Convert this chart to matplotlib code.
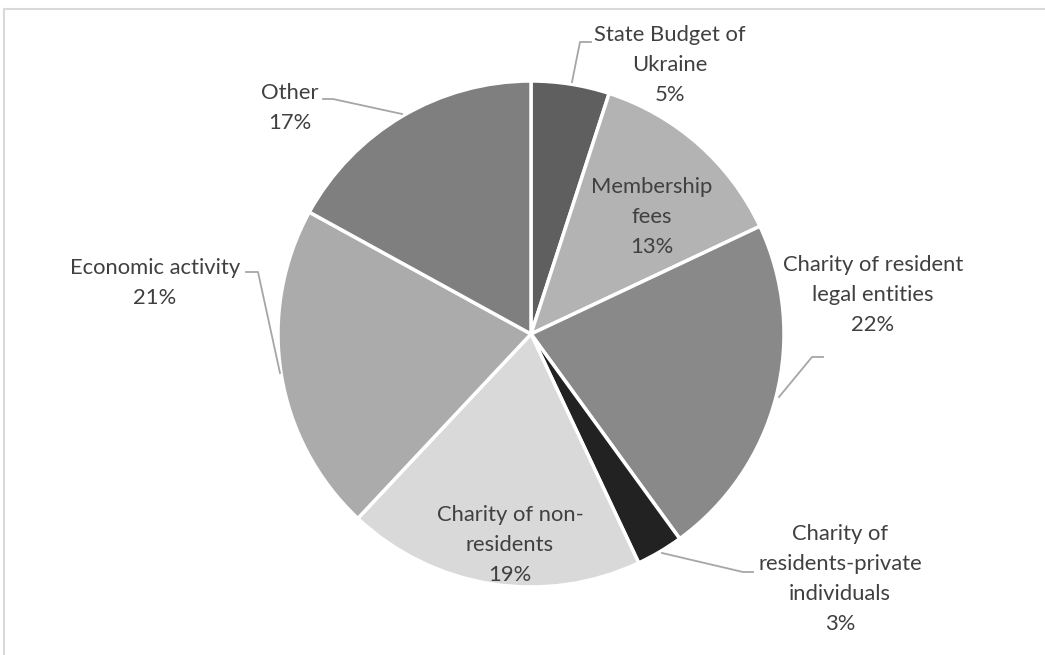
import matplotlib.pyplot as plt
from matplotlib.lines import Line2D

# funding sources, percent of total, clockwise from 12 o'clock
sources = ['State Budget of\nUkraine', 'Membership\nfees',
           'Charity of resident\nlegal entities',
           'Charity of\nresidents-private\nindividuals',
           'Charity of non-\nresidents', 'Economic activity', 'Other']
shares = [5, 13, 22, 3, 19, 21, 17]
colors = ['#5f5f5f', '#b3b3b3', '#898989', '#222222', '#d9d9d9', '#ababab', '#7f7f7f']

W, H = 1045, 655
fig = plt.figure(figsize=(W / 100, H / 100), dpi=100)
ax = fig.add_axes([0, 0, 1, 1])
ax.set_xlim(0, W)
ax.set_ylim(0, H)
ax.axis('off')

cx, cy, r = 531, H - 334, 253
ax.pie(shares, colors=colors, startangle=90, counterclock=False,
       center=(cx, cy), radius=r,
       wedgeprops=dict(edgecolor='white', linewidth=2.5))
ax.set_xlim(0, W)
ax.set_ylim(0, H)
ax.set_aspect('equal')

# label text placed in pixel coords (top-left origin)
label_xy = [(670, 65), (652, 217), (873, 295), (840, 579), (510, 545), (155, 283), (290, 108)]
txt = dict(ha='center', va='center', fontsize=15.8, color='#404040',
           family=['Lato', 'DejaVu Sans'], linespacing=1.62)
for name, v, (x, y) in zip(sources, shares, label_xy):
    ax.text(x, H - y, f'{name}\n{v}%', **txt)

# leader lines for the outside labels
leaders = [
    [(572, 82), (580, 42), (591, 42)],
    [(779, 397), (812, 357), (823, 357)],
    [(662, 553), (743, 572), (753, 572)],
    [(280, 373), (258, 272), (246, 272)],
    [(402, 114), (333, 99), (323, 99)],
]
for pts in leaders:
    xs = [p[0] for p in pts]
    ys = [H - p[1] for p in pts]
    ax.add_line(Line2D(xs, ys, color='#a6a6a6', lw=1.3))

# chart area border (top and left edges)
ax.add_line(Line2D([4, W], [H - 9, H - 9], color='#d9d9d9', lw=1.5))
ax.add_line(Line2D([4, 4], [H - 9, 0], color='#d9d9d9', lw=1.5))

fig.savefig('out.png', dpi=100)
